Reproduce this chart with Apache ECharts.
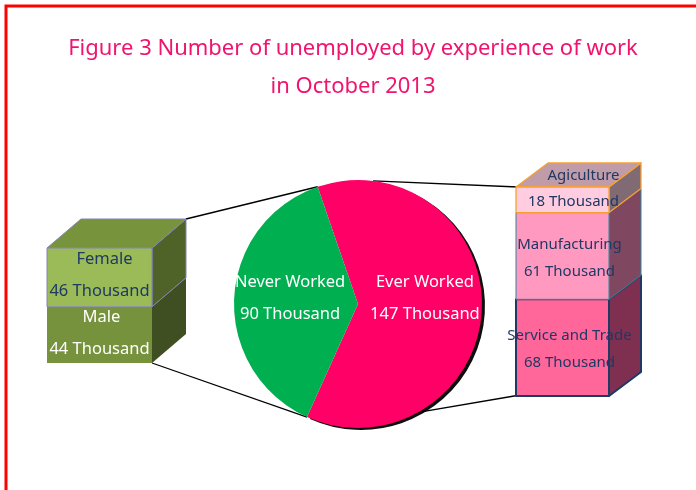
<!DOCTYPE html>
<html><head><meta charset="utf-8">
<script src="https://cdn.jsdelivr.net/npm/echarts@6/dist/echarts.min.js"></script>
<style>html,body{margin:0;padding:0;background:#fff}#c{width:696px;height:490px}</style>
</head><body><div id="c"></div>
<script>
// ---- data ----
var titleLines = ['Figure 3 Number of unemployed by experience of work', 'in October 2013'];
var pieNames = ['Ever Worked', 'Never Worked'];
var pieValues = [147, 90];
var leftNames = ['Male', 'Female'];          // bottom -> top
var leftValues = [44, 46];
var rightNames = ['Service and Trade', 'Manufacturing', 'Agiculture']; // bottom -> top
var rightValues = [68, 61, 18];
var unitLabel = 'Thousand';

// ---- styles ----
var FONT = 'Noto Sans';
var leftStyles = [
  {front: '#76923c', side: '#3f4f22', top: '#6e8a38', stroke: null, lw: 0, text: '#ffffff', dx: 2},
  {front: '#9bbb59', side: '#4f6228', top: '#77933c', stroke: '#8484b4', lw: 1, text: '#1f3864', dx: 5}
];
var rightStyles = [
  {front: '#ff6699', side: '#7f3050', top: '#c0607f', stroke: '#1f3864', lw: 2, text: '#1f3864', dx: 0},
  {front: '#ff99bf', side: '#804860', top: '#c08aa0', stroke: '#31859c', lw: 1, text: '#1f3864', dx: 0},
  {front: '#ffcce0', side: '#806a74', top: '#c09ca8', stroke: '#f7a030', lw: 1.3, text: '#1f3864', dx: 0}
];
var leftGrid = {left: 47, top: 248, width: 105, height: 115};
var rightGrid = {left: 516, top: 187, width: 93, height: 209};
var leftDepth = [34, 29], rightDepth = [32, 24];
var pieCenter = [358, 304], pieR = 124, pieStart = 109;

function stackData(vals) {
  var out = [], base = 0;
  for (var i = 0; i < vals.length; i++) { out.push([0, base, vals[i], i]); base += vals[i]; }
  return out;
}

function makeBoxRender(names, styles, depth, textDx, textDy, lineGap, topNameOnFace, fs) {
  return function (params, api) {
    var base = api.value(1), val = api.value(2), idx = api.value(3);
    var isTop = idx === names.length - 1;
    var p0 = api.coord([0, base]), p1 = api.coord([0, base + val]);
    var bw = api.size([1, 0])[0];
    var x0 = p0[0] - bw / 2, x1 = p0[0] + bw / 2, yb = p0[1], yt = p1[1];
    var dx = depth[0], dy = depth[1];
    var st = styles[idx];
    var strokeStyle = st.stroke ? {stroke: st.stroke, lineWidth: st.lw, lineJoin: 'round'} : {};
    var children = [];
    children.push({type: 'polygon', z2: idx * 10 + 1,
      shape: {points: [[x1, yt], [x1 + dx, yt - dy], [x1 + dx, yb - dy], [x1, yb]]},
      style: Object.assign({fill: st.side}, strokeStyle)});
    if (isTop) {
      children.push({type: 'polygon', z2: idx * 10 + 2,
        shape: {points: [[x0, yt], [x1, yt], [x1 + dx, yt - dy], [x0 + dx, yt - dy]]},
        style: Object.assign({fill: st.top}, strokeStyle)});
    }
    children.push({type: 'rect', z2: idx * 10 + 3,
      shape: {x: x0, y: yt, width: bw, height: yb - yt},
      style: Object.assign({fill: st.front}, strokeStyle)});
    var cx = (x0 + x1) / 2 + textDx, cy = (yt + yb) / 2 + textDy;
    var nm = names[idx], vt = val + ' ' + unitLabel;
    var font = fs + 'px "' + FONT + '"';
    if (isTop && topNameOnFace) {
      children.push({type: 'text', z2: 100, style: {text: nm, x: (x0 + x1 + dx) / 2 + 5, y: yt - dy / 2 + 1, fill: st.text,
        font: font, align: 'center', verticalAlign: 'middle'}});
      children.push({type: 'text', z2: 100, style: {text: vt, x: cx + 4, y: (yt + yb) / 2 + 2, fill: st.text,
        font: font, align: 'center', verticalAlign: 'middle'}});
    } else {
      children.push({type: 'text', z2: 100, style: {text: nm, x: cx + st.dx, y: cy - lineGap / 2, fill: st.text,
        font: font, align: 'center', verticalAlign: 'middle'}});
      children.push({type: 'text', z2: 100, style: {text: vt, x: cx, y: cy + lineGap / 2, fill: st.text,
        font: font, align: 'center', verticalAlign: 'middle'}});
    }
    return {type: 'group', children: children};
  };
}

var chart = echarts.init(document.getElementById('c'), null, {renderer: 'canvas'});

function polar(angDeg) {
  var a = angDeg * Math.PI / 180;
  return [pieCenter[0] + pieR * Math.cos(a), pieCenter[1] - pieR * Math.sin(a)];
}
var total = pieValues[0] + pieValues[1];
var endAng = pieStart - pieValues[0] / total * 360;
var pTopBoundary = polar(pieStart), pBotBoundary = polar(endAng);
var pTopRight = polar(83), pBotRight = polar(-61);
var L = leftGrid, R = rightGrid;
var lineStyle = {stroke: '#000', lineWidth: 1.3};
var pieColors = ['#ff0066', '#00b050'];
var pieLabelOffsets = [[2, -9], [-3, -3]];

var option = {
  backgroundColor: '#fff',
  animation: false,
  graphic: [
    {type: 'polyline', shape: {points: [[6, 490], [6, 6], [696, 6]]}, style: {stroke: '#ff0000', lineWidth: 3, fill: null}, z: 0},
    {type: 'text', style: {text: titleLines[0], x: 353, y: 49, align: 'center', verticalAlign: 'middle', fill: '#f0146e', font: '22px "' + FONT + '"'}},
    {type: 'text', style: {text: titleLines[1], x: 353, y: 87, align: 'center', verticalAlign: 'middle', fill: '#f0146e', font: '22px "' + FONT + '"'}},
    {type: 'line', shape: {x1: L.left + L.width + leftDepth[0], y1: L.top - leftDepth[1], x2: pTopBoundary[0], y2: pTopBoundary[1]}, style: lineStyle, z: 1},
    {type: 'line', shape: {x1: L.left + L.width, y1: L.top + L.height, x2: pBotBoundary[0], y2: pBotBoundary[1]}, style: lineStyle, z: 1},
    {type: 'line', shape: {x1: pTopRight[0], y1: pTopRight[1], x2: R.left + 2, y2: R.top}, style: lineStyle, z: 1},
    {type: 'line', shape: {x1: pBotRight[0], y1: pBotRight[1], x2: R.left + 4, y2: R.top + R.height - 1}, style: lineStyle, z: 1}
  ],
  grid: [
    {left: L.left, top: L.top, width: L.width, height: L.height},
    {left: R.left, top: R.top, width: R.width, height: R.height}
  ],
  xAxis: [
    {type: 'category', gridIndex: 0, data: ['a'], show: false},
    {type: 'category', gridIndex: 1, data: ['a'], show: false}
  ],
  yAxis: [
    {type: 'value', gridIndex: 0, min: 0, max: 90, show: false},
    {type: 'value', gridIndex: 1, min: 0, max: 147, show: false}
  ],
  series: [
    {
      type: 'pie', name: 'pie', center: pieCenter, radius: pieR, startAngle: pieStart, clockwise: true,
      z: 3,
      label: {position: 'inside', color: '#fff', fontFamily: FONT, fontSize: 16.5, lineHeight: 32,
        formatter: function (p) { return p.name + '\n' + p.value + ' ' + unitLabel; }},
      labelLine: {show: false},
      itemStyle: {borderWidth: 0},
      emphasis: {disabled: true},
      data: pieNames.map(function (n, i) {
        var it = {color: pieColors[i]};
        if (i === 0) { it.shadowColor = 'rgba(0,0,0,0.95)'; it.shadowBlur = 0; it.shadowOffsetX = 3; it.shadowOffsetY = 2; }
        return {name: n, value: pieValues[i], itemStyle: it, label: {offset: pieLabelOffsets[i]}};
      })
    },
    {
      type: 'custom', name: 'left', xAxisIndex: 0, yAxisIndex: 0, z: 2,
      renderItem: makeBoxRender(leftNames, leftStyles, leftDepth, 0, -2, 32, false, 16.5),
      data: stackData(leftValues)
    },
    {
      type: 'custom', name: 'right', xAxisIndex: 1, yAxisIndex: 1, z: 2,
      renderItem: makeBoxRender(rightNames, rightStyles, rightDepth, 7, 2, 27, true, 15),
      data: stackData(rightValues)
    }
  ]
};
chart.setOption(option);
</script></body></html>
